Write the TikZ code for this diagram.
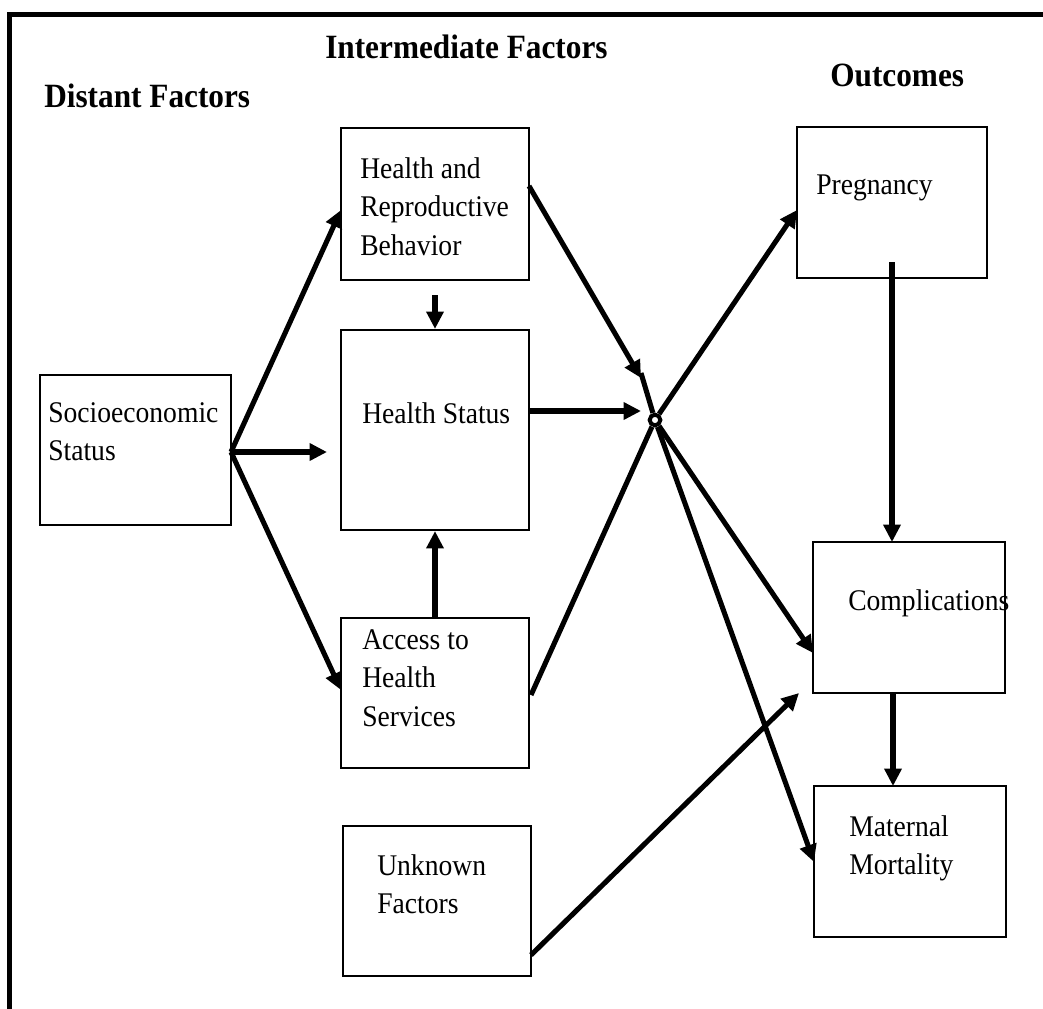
\documentclass[tikz,border=0pt]{standalone}
\usepackage{fontspec}
\setmainfont{Liberation Serif}[FakeStretch=0.92]
\usetikzlibrary{arrows.meta}
\begin{document}
\begin{tikzpicture}[x=0.75pt,y=-0.75pt,
  box/.style={draw, line width=1.6pt, inner sep=0pt},
  txt/.style={anchor=north west, align=left, inner sep=0pt, font=\fontsize{22.5}{29}\selectfont},
  hdr/.style={anchor=base west, inner sep=0pt, font=\fontsize{25.5}{30}\selectfont\bfseries},
  arr/.style={line width=3.8pt, -{Triangle[length=13pt,width=12.5pt]}},
  ln/.style={line width=3.8pt}]
\useasboundingbox (0,0) rectangle (1043,1008);
\clip (0,0) rectangle (1043,1008);
\draw[line width=4pt] (9.5,1030) -- (9.5,14.5) -- (1060,14.5);

% headers
\node[hdr] (h1) at (44,107) {Distant Factors};
\node[hdr] (h2) at (325,58) {Intermediate Factors};
\node[hdr] (h3) at (830,86) {Outcomes};

% boxes
\node[box, minimum width=143.25pt, minimum height=112.5pt] (soc) at (135.5,450) {};
\node[box, minimum width=141pt, minimum height=114pt] (hrb) at (435,204) {};
\node[box, minimum width=141pt, minimum height=150pt] (hs) at (435,430) {};
\node[box, minimum width=141pt, minimum height=112.5pt] (acc) at (435,693) {};
\node[box, minimum width=141pt, minimum height=112.5pt] (unk) at (437,901) {};
\node[box, minimum width=142.5pt, minimum height=113.25pt] (preg) at (892,202.5) {};
\node[box, minimum width=144pt, minimum height=113.25pt] (comp) at (909,617.5) {};
\node[box, minimum width=144pt, minimum height=113.25pt] (mm) at (910,861.5) {};

% texts
\node[txt] (tsoc) at (48,402) {Socioeconomic\\Status};
\node[txt] (thrb) at (360,157) {Health and\\Reproductive\\Behavior};
\node[txt] (ths) at (362,402) {Health Status};
\node[txt] (tacc) at (362,629) {Access to\\Health\\Services};
\node[txt] (tunk) at (377,854) {Unknown\\Factors};
\node[txt] (tpreg) at (816,175) {Pregnancy};
\node[txt] (tcomp) at (848,589) {Complications};
\node[txt] (tmm) at (849,815) {Maternal\\Mortality};

% hub and helper coordinates
\node[circle, draw, line width=3pt, minimum size=8pt, inner sep=0pt] (hub) at (655,420) {};
\coordinate (s0) at (231,452);
\coordinate (hrbin) at (341,210);
\coordinate (hsin) at (327,452);
\coordinate (accin) at (341,690);
\coordinate (hrbout) at (529,186);
\coordinate (t1) at (641,378);
\coordinate (t1s) at (641,373);
\coordinate (hsout) at (529,411);
\coordinate (t2) at (641,411);
\coordinate (hrbb) at (435,295);
\coordinate (accout) at (531,695);
\coordinate (pregin) at (797,210);
\coordinate (compin) at (813,653);
\coordinate (mmin) at (814,862);
\coordinate (pregb) at (892,262);
\coordinate (comptop) at (892,542);
\coordinate (compb) at (893,693);
\coordinate (mmtop) at (893,786);
\coordinate (unkout) at (531,955);
\coordinate (unkend) at (799,693);

% connectors
\draw[arr] (s0) -- (hrbin);
\draw[arr] (s0) -- (hsin);
\draw[arr] (s0) -- (accin);
\draw[arr] (hrbb) -- (hs.north);
\draw[arr] (acc.north) -- (hs.south);
\draw[arr] (hrbout) -- (t1);
\draw[arr] (hsout) -- (t2);
\draw[ln] (accout) -- (hub);
\draw[ln] (t1s) -- (hub);
\draw[arr] (hub) -- (pregin);
\draw[arr] (hub) -- (compin);
\draw[arr] (hub) -- (mmin);
\draw[arr] (pregb) -- (comptop);
\draw[arr] (compb) -- (mmtop);
\draw[arr] (unkout) -- (unkend);
\end{tikzpicture}
\end{document}
